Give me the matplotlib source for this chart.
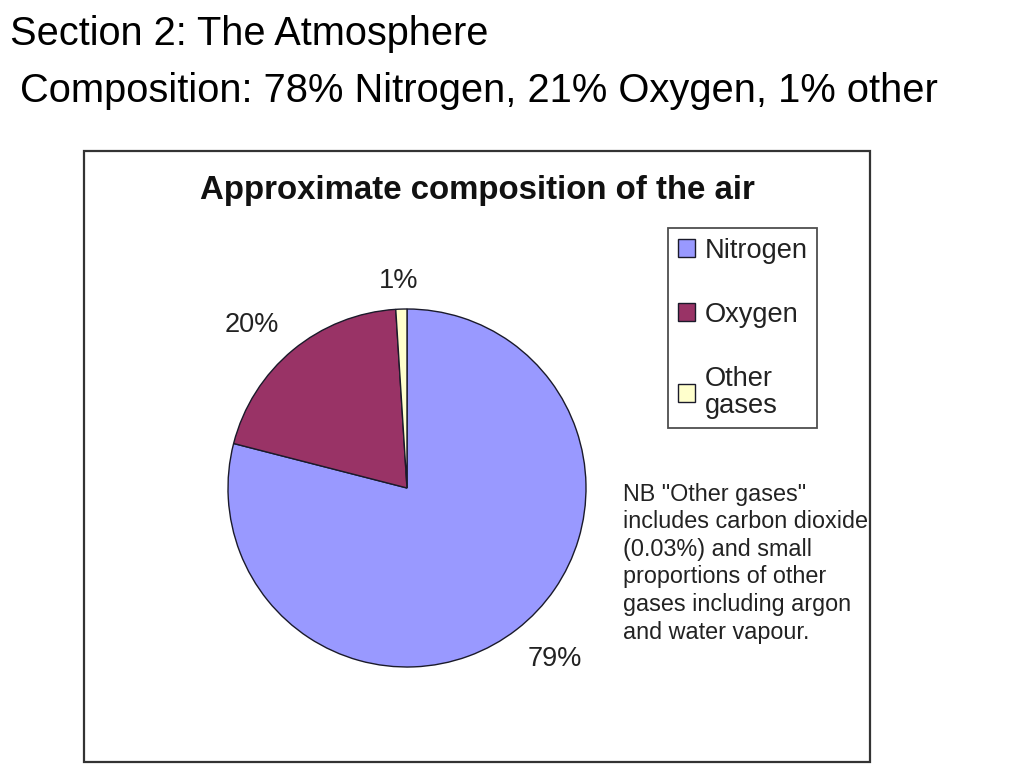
import numpy as np
import matplotlib.pyplot as plt
from matplotlib.patches import Rectangle

plt.rcParams['font.family'] = ['Liberation Sans', 'DejaVu Sans']

# data
gases = ["Nitrogen", "Oxygen", "Other\ngases"]
shares = [79, 20, 1]
share_labels = ["79%", "20%", "1%"]
gas_colors = ["#9999ff", "#993366", "#ffffcc"]

slide_title = "Section 2: The Atmosphere"
slide_subtitle = "Composition: 78% Nitrogen, 21% Oxygen, 1% other"
chart_title = "Approximate composition of the air"
note = ('NB "Other gases"\nincludes carbon dioxide\n(0.03%) and small\n'
        'proportions of other\ngases including argon\nand water vapour.')

W, H = 1024, 768


def Y(y):
    # pixel row (from top) -> axes coordinate
    return H - y


fig = plt.figure(figsize=(W / 100, H / 100), dpi=100)
ax = fig.add_axes([0, 0, 1, 1])

# slide text
ax.text(10, Y(34), slide_title, fontsize=28.6, va="center", ha="left", color="black")
ax.text(20, Y(91), slide_subtitle, fontsize=28.7, va="center", ha="left", color="black")

# chart frame
ax.add_patch(Rectangle((84, Y(762)), 786, 611, fill=False,
                       edgecolor="#333333", linewidth=1.6))
ax.text(477, Y(190), chart_title, fontsize=23.8, fontweight="bold",
        ha="center", va="center", color="#111111")

# pie
cx, cy, r = 407, Y(488), 179
wedges, _ = ax.pie(
    shares,
    colors=gas_colors,
    startangle=90,
    counterclock=False,
    center=(cx, cy),
    radius=r,
    wedgeprops=dict(edgecolor="#1a1a2a", linewidth=1.0),
)

# percentage labels just outside each wedge
label_dist = [1.26, 1.26, 1.16]
label_nudge = [3.0, 4.0, 0.5]
for w, txt, d, nud in zip(wedges, share_labels, label_dist, label_nudge):
    ang = np.deg2rad((w.theta1 + w.theta2) / 2 + nud)
    ax.text(cx + d * r * np.cos(ang), cy + d * r * np.sin(ang), txt,
            fontsize=19.5, ha="center", va="center", color="#222222")

ax.set_xlim(0, W)
ax.set_ylim(0, H)
ax.set_aspect("equal")
ax.axis("off")

leg = fig.legend(
    wedges, gases,
    loc="upper left",
    bbox_to_anchor=(668 / W, 1 - 228 / H),
    fontsize=19.6,
    frameon=True,
    fancybox=False,
    edgecolor="#222222",
    handlelength=0.65,
    handleheight=0.65,
    handletextpad=0.35,
    labelspacing=1.4,
    borderpad=0.35,
    borderaxespad=0,
)
leg.get_frame().set_linewidth(1.3)
for t in leg.get_texts():
    t.set_color("#222222")
    t.set_linespacing(1.05)

ax.text(623, Y(483), note, fontsize=16.8, ha="left", va="top",
        linespacing=1.25, color="#222222")

fig.savefig("out.png", dpi=100)
